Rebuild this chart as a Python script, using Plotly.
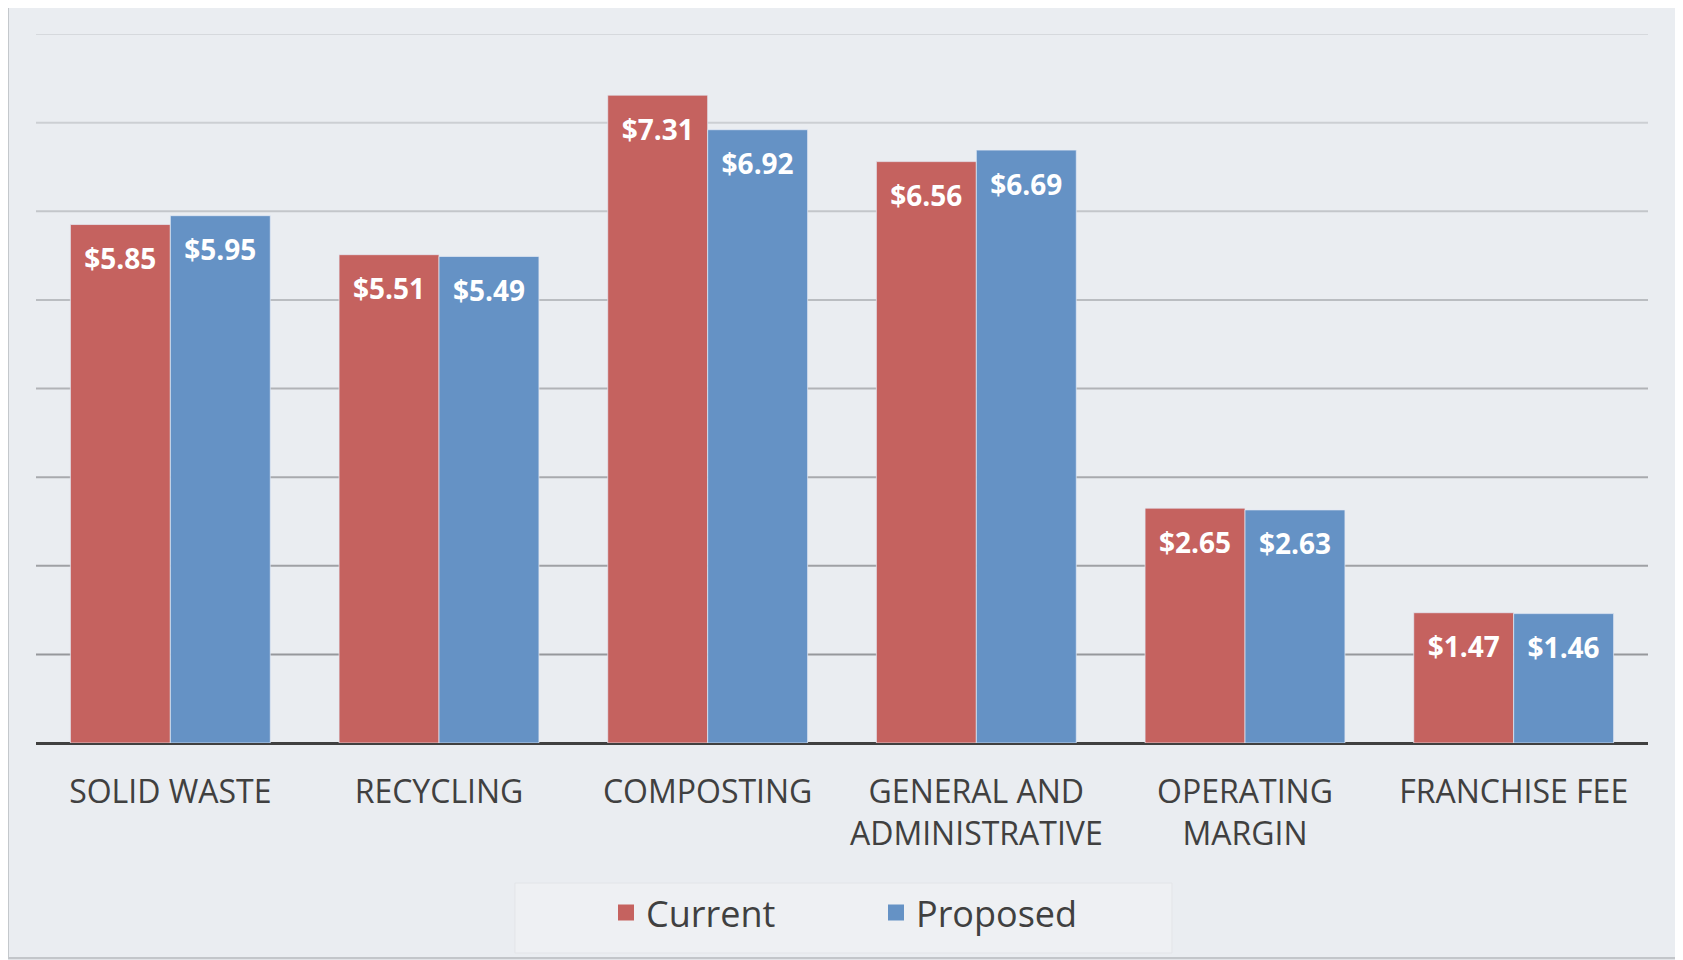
import plotly.graph_objects as go

categories = ["SOLID WASTE", "RECYCLING", "COMPOSTING", "GENERAL AND<br>ADMINISTRATIVE", "OPERATING<br>MARGIN", "FRANCHISE FEE"]
current = [5.85, 5.51, 7.31, 6.56, 2.65, 1.47]
proposed = [5.95, 5.49, 6.92, 6.69, 2.63, 1.46]
grid_values = [1, 2, 3, 4, 5, 6, 7, 8]

RED = "#C5625F"
BLUE = "#6592C5"
FONT = "Open Sans"

fig = go.Figure()
for name, vals, col in [("Current", current, RED), ("Proposed", proposed, BLUE)]:
    fig.add_trace(go.Bar(
        x=categories, y=vals, name=name, offsetgroup=name,
        marker=dict(color=col, line=dict(color="rgba(230,235,245,0.7)", width=1)),
        showlegend=False, hoverinfo="skip",
    ))
for name, vals in [("Current", current), ("Proposed", proposed)]:
    fig.add_trace(go.Scatter(
        x=categories, y=vals, offsetgroup=name, mode="markers+text",
        text=[f"${v:.2f}" for v in vals], textposition="bottom center",
        textfont=dict(family=FONT, size=28, color="white", weight="bold"),
        marker=dict(size=36, color="rgba(0,0,0,0)"),
        showlegend=False, hoverinfo="skip", cliponaxis=False,
    ))
for name, col in [("Current", RED), ("Proposed", BLUE)]:
    fig.add_trace(go.Scatter(
        x=[None], y=[None], mode="markers", name=name,
        marker=dict(symbol="square", size=16, color=col),
    ))

# outer frame (drawn first so gridlines sit on top of its fill)
fig.add_shape(type="rect", xref="paper", yref="paper",
              x0=-0.0174, x1=1.018, y0=-0.3032, y1=1.0409,
              line=dict(color="#c3c6ca", width=2), fillcolor="#eaedf1", layer="below")
# legend box
fig.add_shape(type="rect", xref="paper", yref="paper",
              x0=0.2971, x1=0.7047, y0=-0.2962, y1=-0.1975,
              line=dict(color="#e3e5e8", width=1), fillcolor="#eef0f3", layer="below")

# gridlines with dark-to-light gradient (bottom to top)
n = len(grid_values)
for i, v in enumerate(grid_values):
    t = i / (n - 1)
    c0, c1 = (150, 152, 156), (214, 217, 221)
    c = tuple(int(a + (b - a) * t) for a, b in zip(c0, c1))
    fig.add_shape(type="line", xref="paper", x0=0, x1=1, yref="y", y0=v, y1=v,
                  line=dict(color=f"rgb{c}", width=2), layer="below")

fig.update_layout(
    width=1675, height=952,
    margin=dict(l=28, r=35, t=26, b=217),
    paper_bgcolor="#e1e4e8", plot_bgcolor="rgba(0,0,0,0)",
    barmode="group", bargap=0.256, bargroupgap=0,
    scattermode="group", scattergap=0.256,
    font=dict(family=FONT, color="#404040"),
    legend=dict(orientation="h", x=0.3536, xanchor="left", y=-0.197, yanchor="top",
                bgcolor="rgba(0,0,0,0)", borderwidth=0,
                font=dict(family=FONT, size=36, color="#404040"),
                entrywidth=225, itemwidth=30),
    xaxis=dict(tickfont=dict(family=FONT, size=32, color="#404040"), ticks="",
               showgrid=False, showline=False, ticklabelstandoff=27),
    yaxis=dict(range=[0, 8], showticklabels=False, showgrid=False,
               zeroline=True, zerolinecolor="#404040", zerolinewidth=3),
)

fig.write_html("out.html")
